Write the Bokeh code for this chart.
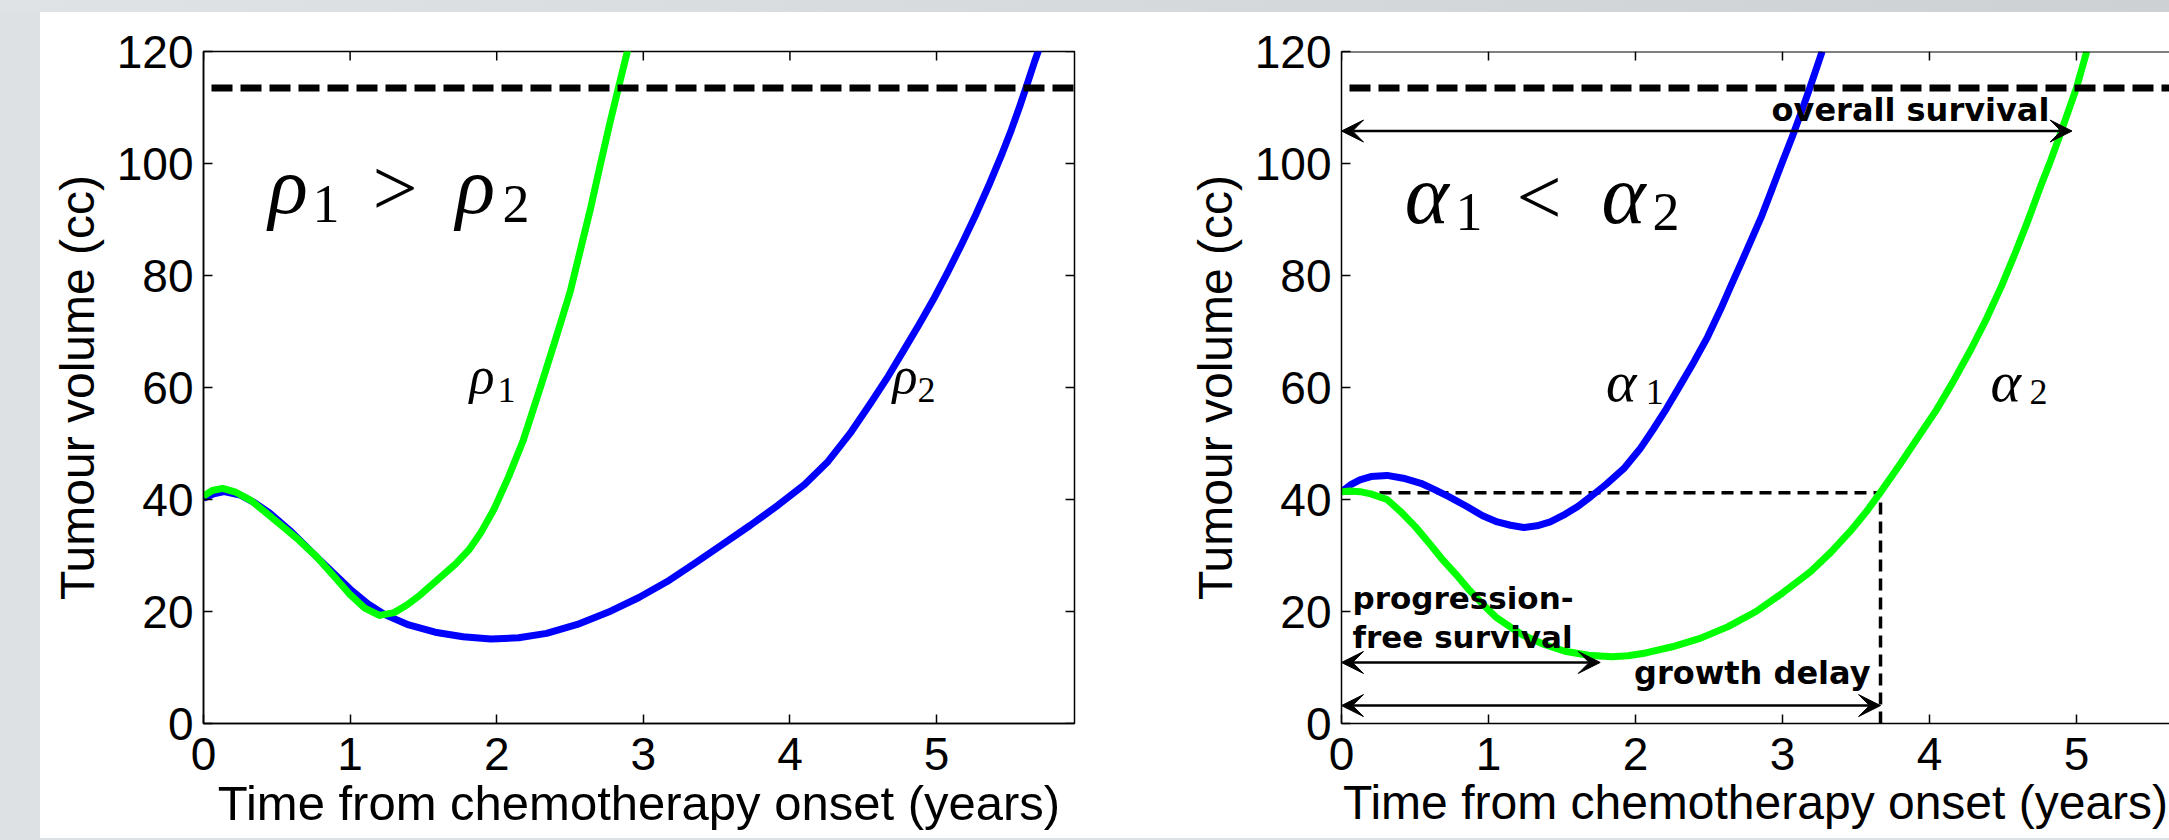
from bokeh.plotting import figure
from bokeh.models import Range1d, FixedTicker, Label, Arrow, VeeHead, Span, Div
from bokeh.layouts import row, column
from bokeh.embed import file_html
from bokeh.resources import INLINE

# ---------------- data ----------------
x_ticks = [0, 1, 2, 3, 4, 5]
y_ticks = [0, 20, 40, 60, 80, 100, 120]
x_title = "Time from chemotherapy onset (years)"
y_title = "Tumour volume (cc)"

# left panel: rho1 (green) and rho2 (blue)
rho1_t = [0, 0.06, 0.13, 0.22, 0.32, 0.41, 0.52, 0.64, 0.77, 0.89, 1.0, 1.1, 1.2,
          1.3, 1.39, 1.48, 1.58, 1.72, 1.81, 1.89, 1.98, 2.08, 2.18, 2.30, 2.40,
          2.50, 2.57, 2.64, 2.70, 2.77, 2.83, 2.91]
rho1_v = [40.6, 41.6, 42.0, 41.3, 39.9, 38.0, 35.6, 33.0, 29.8, 26.3, 23.0, 20.6,
          19.3, 19.8, 21.2, 23.0, 25.3, 28.5, 31.0, 34.0, 38.2, 44.0, 50.5, 60.2,
          68.5, 77.0, 84.5, 92.0, 99.0, 107.0, 113.5, 122.0]

rho2_t = [0, 0.07, 0.14, 0.25, 0.35, 0.45, 0.6, 0.77, 0.9, 1.0, 1.12, 1.24, 1.4,
          1.58, 1.77, 1.96, 2.15, 2.34, 2.55, 2.78, 2.97, 3.16, 3.35, 3.54, 3.73,
          3.92, 4.1, 4.26, 4.41, 4.55, 4.67, 4.78, 4.88, 4.98, 5.08, 5.17, 5.27,
          5.36, 5.44, 5.51, 5.57, 5.62, 5.67, 5.70]
rho2_v = [40.2, 41.0, 41.4, 40.8, 39.4, 37.6, 34.2, 29.8, 26.5, 24.0, 21.4, 19.4,
          17.6, 16.3, 15.5, 15.1, 15.3, 16.1, 17.7, 20.1, 22.5, 25.3, 28.6, 32.0,
          35.4, 39.0, 42.7, 46.8, 51.8, 57.2, 62.0, 66.8, 71.2, 75.8, 80.8, 85.5,
          91.0, 96.3, 101.3, 106.0, 110.4, 114.3, 118.3, 120.5]

# right panel: alpha1 (blue) and alpha2 (green)
alpha1_t = [0, 0.06, 0.125, 0.2, 0.31, 0.42, 0.54, 0.63, 0.73, 0.85, 0.96, 1.06,
            1.15, 1.24, 1.33, 1.42, 1.51, 1.61, 1.70, 1.80, 1.92, 2.03, 2.12, 2.21,
            2.30, 2.40, 2.49, 2.58, 2.65, 2.72, 2.79, 2.86, 2.93, 3.0, 3.07, 3.13,
            3.19, 3.27]
alpha1_v = [41.4, 42.6, 43.5, 44.1, 44.3, 43.8, 42.9, 41.8, 40.5, 38.8, 37.1, 36.0,
            35.4, 35.0, 35.3, 36.0, 37.2, 38.8, 40.6, 42.7, 45.5, 49.0, 52.5, 56.2,
            60.2, 64.7, 69.0, 74.0, 78.2, 82.3, 86.5, 90.7, 95.5, 100.3, 105.0,
            109.3, 113.8, 120.0]

alpha2_t = [0, 0.06, 0.125, 0.2, 0.31, 0.4, 0.5, 0.59, 0.68, 0.78, 0.87, 0.96,
            1.05, 1.15, 1.24, 1.38, 1.52, 1.68, 1.84, 1.95, 2.07, 2.25, 2.44, 2.63,
            2.82, 3.0, 3.19, 3.33, 3.46, 3.57, 3.67, 3.80, 3.93, 4.05, 4.16, 4.28,
            4.39, 4.49, 4.58, 4.67, 4.76, 4.82, 4.88, 4.94, 5.0, 5.07]
alpha2_v = [41.4, 41.5, 41.4, 41.0, 40.0, 37.9, 35.2, 32.4, 29.5, 26.6, 23.8, 21.3,
            19.0, 17.2, 15.7, 14.1, 12.9, 12.2, 11.9, 12.1, 12.6, 13.7, 15.2, 17.3,
            20.0, 23.3, 27.1, 30.6, 34.3, 37.8, 41.4, 46.3, 51.4, 56.1, 61.0, 66.7,
            72.4, 78.1, 83.8, 89.8, 96.2, 100.2, 104.5, 109.0, 113.5, 120.0]

threshold_volume = 113.5       # thick dashed limit line
baseline_volume = 41.2         # initial volume (thin dashed line)
pfs_time = 1.76                # progression-free survival
gd_time = 3.667                # growth delay
os_time = 4.97                 # overall survival
os_arrow_v = 105.8
pfs_arrow_v = 10.9
gd_arrow_v = 3.2

# ---------------- style ----------------
GRAY = "#dee1e4"
FONT = "Liberation Sans"
MATH = "Liberation Serif"
BOLD = "DejaVu Sans"
BLUE = "#0000ff"
GREEN = "#00ff00"
TICK_PX = 9


def style_axis(ax, ticks, standoff, title, title_standoff, title_size):
    ax.ticker = FixedTicker(ticks=ticks)
    ax.minor_tick_line_color = None
    ax.major_tick_in = TICK_PX
    ax.major_tick_out = 0
    ax.major_tick_line_width = 1.5
    ax.major_tick_line_color = "black"
    ax.axis_line_width = 1.5
    ax.axis_line_color = "black"
    ax.major_label_text_font = FONT
    ax.major_label_text_font_size = "46px"
    ax.major_label_text_color = "black"
    ax.major_label_standoff = standoff
    ax.axis_label = title
    ax.axis_label_text_font = FONT
    ax.axis_label_text_font_size = f"{title_size}px"
    ax.axis_label_text_font_style = "normal"
    ax.axis_label_text_color = "black"
    ax.axis_label_standoff = title_standoff


def make_fig(width, height, bl, br, bt, bb, xend, xtitle_size):
    p = figure(width=width, height=height, x_range=Range1d(0, xend),
               y_range=Range1d(0, 120), output_backend="svg",
               toolbar_location=None, min_border_left=bl, min_border_right=br,
               min_border_top=bt, min_border_bottom=bb)
    p.xgrid.visible = False
    p.ygrid.visible = False
    p.background_fill_color = "white"
    p.border_fill_color = "white"
    p.outline_line_color = "black"
    p.outline_line_width = 1.5
    p.outline_line_alpha = 1.0
    style_axis(p.xaxis[0], x_ticks, 14, x_title, 3, xtitle_size)
    style_axis(p.yaxis[0], y_ticks, 10, y_title, 10, 48)
    return p


def add_label(p, ppu, text, x, base_v, font, size, style="normal", align="left"):
    # anchor is the vertical centre of the text box -> shift from the baseline
    y = base_v + 0.34 * size / ppu
    p.add_layout(Label(x=x, y=y, text=text, text_font=font,
                       text_font_size=f"{size}px", text_font_style=style,
                       text_align=align, text_baseline="middle",
                       text_color="black"))


def inner_ticks(p, xend, ppu_x, ppu_y, right=True):
    n = len(x_ticks)
    p.segment(x0=x_ticks, y0=[120] * n, x1=x_ticks, y1=[120 - TICK_PX / ppu_y] * n,
              line_color="black", line_width=1.5)
    if right:
        m = len(y_ticks)
        p.segment(x0=[xend] * m, y0=y_ticks, x1=[xend - TICK_PX / ppu_x] * m,
                  y1=y_ticks, line_color="black", line_width=1.5)


# ---------------- left panel ----------------
L_PPU_X, L_PPU_Y = 146.6, 5.6
p1 = make_fig(1080, 826, 163, 46, 39, 115, 5.941, 49)
inner_ticks(p1, 5.941, L_PPU_X, L_PPU_Y, right=True)

p1.add_layout(Span(location=threshold_volume, dimension="width",
                   line_color="black", line_width=7, line_dash="21 8",
                   line_dash_offset=21))
p1.line(rho2_t, rho2_v, line_color=BLUE, line_width=7, line_join="round")
p1.line(rho1_t, rho1_v, line_color=GREEN, line_width=7, line_join="round")

add_label(p1, L_PPU_Y, "ρ", 0.443, 91.1, MATH, 82, "italic")
add_label(p1, L_PPU_Y, "1", 0.744, 89.5, MATH, 54)
add_label(p1, L_PPU_Y, ">", 1.152, 90.7, MATH, 80)
add_label(p1, L_PPU_Y, "ρ", 1.72, 91.1, MATH, 82, "italic")
add_label(p1, L_PPU_Y, "2", 2.04, 89.5, MATH, 54)

add_label(p1, L_PPU_Y, "ρ", 1.814, 58.9, MATH, 52, "italic")
add_label(p1, L_PPU_Y, "1", 2.005, 57.3, MATH, 36)
add_label(p1, L_PPU_Y, "ρ", 4.70, 58.9, MATH, 52, "italic")
add_label(p1, L_PPU_Y, "2", 4.87, 57.3, MATH, 36)

# ---------------- right panel ----------------
R_PPU_X, R_PPU_Y = 147.0, 5.625
p2 = make_fig(1049, 826, 221, 0, 36, 115, 5.633, 48)
p2.outline_line_color = None
p2.add_layout(Span(location=120, dimension="width", line_color="black",
                   line_width=2))
inner_ticks(p2, 5.633, R_PPU_X, R_PPU_Y, right=False)

p2.add_layout(Span(location=threshold_volume, dimension="width",
                   line_color="black", line_width=7, line_dash="21 8",
                   line_dash_offset=21))
p2.line([0, gd_time], [baseline_volume, baseline_volume], line_color="black",
        line_width=3.5, line_dash="12 7")
p2.line([gd_time, gd_time], [0, baseline_volume], line_color="black",
        line_width=3.5, line_dash="12 7")
p2.line(alpha1_t, alpha1_v, line_color=BLUE, line_width=7, line_join="round")
p2.line(alpha2_t, alpha2_v, line_color=GREEN, line_width=7, line_join="round")


def double_arrow(p, x0, x1, y):
    p.add_layout(Arrow(start=VeeHead(size=22, fill_color="black", line_color="black"),
                       end=VeeHead(size=22, fill_color="black", line_color="black"),
                       x_start=x0, y_start=y, x_end=x1, y_end=y,
                       line_color="black", line_width=2.5))


double_arrow(p2, 0, os_time, os_arrow_v)
double_arrow(p2, 0, pfs_time, pfs_arrow_v)
double_arrow(p2, 0, gd_time, gd_arrow_v)

add_label(p2, R_PPU_Y, "overall survival", 4.816, 107.6, BOLD, 32, "bold", "right")
add_label(p2, R_PPU_Y, "progression-", 0.075, 20.6, BOLD, 31, "bold")
add_label(p2, R_PPU_Y, "free survival", 0.075, 13.5, BOLD, 31, "bold")
add_label(p2, R_PPU_Y, "growth delay", 3.599, 7.1, BOLD, 32, "bold", "right")

add_label(p2, R_PPU_Y, "α", 0.43, 89.4, MATH, 84, "italic")
add_label(p2, R_PPU_Y, "1", 0.776, 88.0, MATH, 54)
add_label(p2, R_PPU_Y, "<", 1.19, 89.1, MATH, 80)
add_label(p2, R_PPU_Y, "α", 1.769, 89.4, MATH, 84, "italic")
add_label(p2, R_PPU_Y, "2", 2.116, 88.0, MATH, 54)

add_label(p2, R_PPU_Y, "α", 1.80, 57.6, MATH, 58, "italic")
add_label(p2, R_PPU_Y, "1", 2.07, 57.1, MATH, 36)
add_label(p2, R_PPU_Y, "α", 4.415, 57.6, MATH, 58, "italic")
add_label(p2, R_PPU_Y, "2", 4.68, 57.1, MATH, 36)

# ---------------- page layout ----------------
top_band = Div(text="", width=2169, height=12, margin=0,
               styles={"background": "linear-gradient(to right, #e0e3e6, #cdd1d4)"})
left_band = Div(text="", width=40, height=826, margin=0,
                styles={"background-color": GRAY})
bottom_band = Div(text="", width=2169, height=2, margin=0,
                  styles={"background-color": GRAY})
layout = column(top_band, row(left_band, p1, p2), bottom_band)

open("out.html", "w").write(file_html(layout, INLINE))
